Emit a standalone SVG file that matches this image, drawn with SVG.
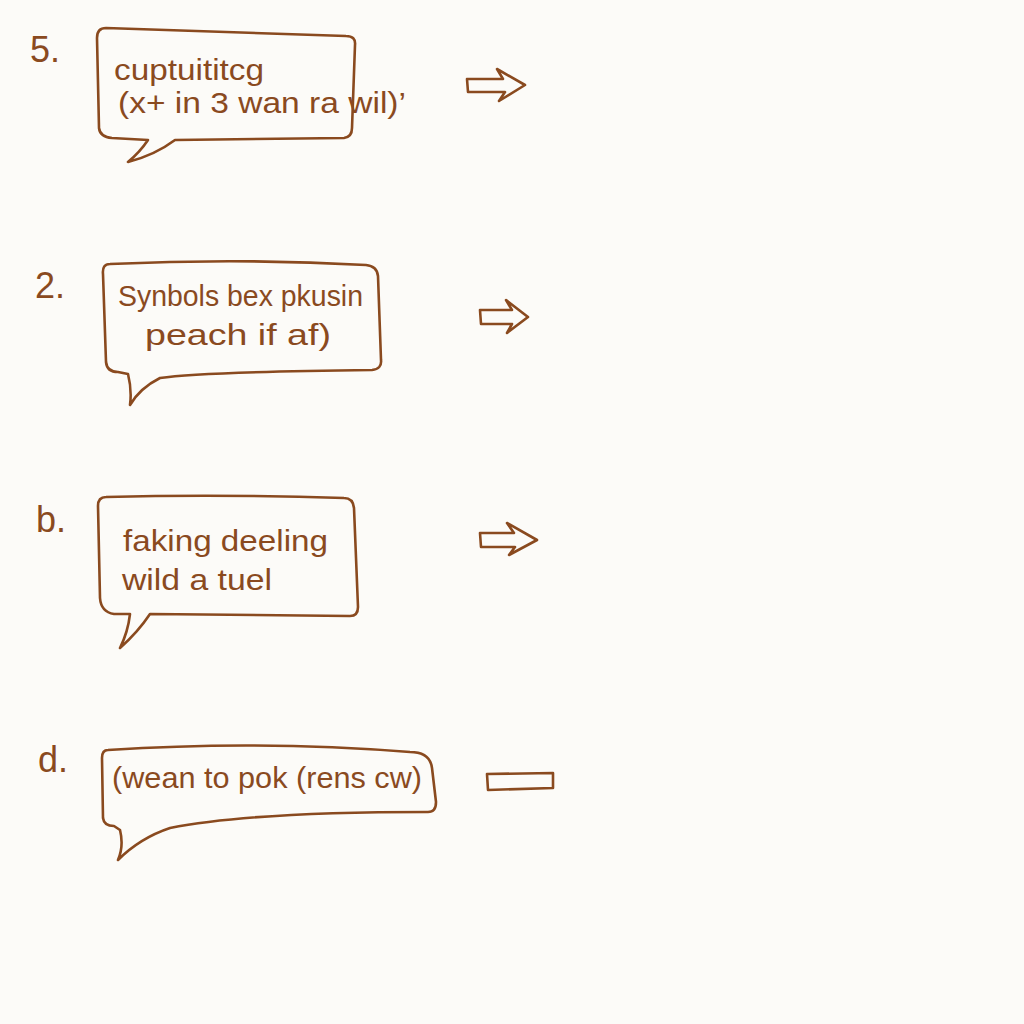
<svg xmlns="http://www.w3.org/2000/svg" width="1024" height="1024" viewBox="0 0 1024 1024">
<style>
.bg{fill:#fcfbf8}
.b{fill:none;stroke:#8a4a1f;stroke-width:2.6;stroke-linejoin:round;stroke-linecap:round}
.t{font-family:"Liberation Sans","DejaVu Sans",sans-serif;fill:#8a4a1f;font-size:29px}
.n{font-family:"Liberation Sans","DejaVu Sans",sans-serif;fill:#8a4a1f;font-size:36px}
</style>
<rect class="bg" width="1024" height="1024"/>
<g id="node5">
<text class="n" x="30" y="62">5.</text>
<path class="b" d="M106,28 Q97,28 97,38 L99,128 Q100,137 112,138 L148,140 Q140,152 128,162 Q155,155 175,140 L344,138 Q352,137 352,128 L355,45 Q356,36 346,36 Z"/>
<text class="t" x="114" y="80" textLength="150" lengthAdjust="spacingAndGlyphs">cuptuititcg</text>
<text class="t" x="118" y="113" textLength="288" lengthAdjust="spacingAndGlyphs">(x+ in 3 wan ra wil)’</text>
</g>
<g id="node2">
<text class="n" x="35" y="298">2.</text>
<path class="b" d="M110,264 Q102,264 103,274 L106,362 Q107,372 118,372 L128,374 Q132,390 130,405 Q140,388 160,378 Q200,372 372,370 Q382,369 381,360 L378,276 Q377,266 366,265 Q240,258 110,264 Z"/>
<text class="t" x="118" y="306" font-size="31" textLength="245" lengthAdjust="spacingAndGlyphs">Synbols bex pkusin</text>
<text class="t" x="145" y="345" font-size="31" textLength="186" lengthAdjust="spacingAndGlyphs">peach if af)</text>
</g>
<g id="nodeb">
<text class="n" x="36" y="532">b.</text>
<path class="b" d="M106,497 Q98,497 98,506 L100,598 Q101,612 114,614 L130,614 Q128,632 120,648 Q138,632 150,614 L350,616 Q358,616 358,607 L354,508 Q353,498 344,498 Q220,494 106,497 Z"/>
<text class="t" x="123" y="551" font-size="30" textLength="205" lengthAdjust="spacingAndGlyphs">faking deeling</text>
<text class="t" x="122" y="590" font-size="30" textLength="150" lengthAdjust="spacingAndGlyphs">wild a tuel</text>
</g>
<g id="noded">
<text class="n" x="38" y="772">d.</text>
<path class="b" d="M108,750 Q102,750 102,758 L103,818 Q104,826 114,826 L120,830 Q124,846 118,860 Q140,838 170,828 Q250,812 428,812 Q436,812 436,802 L432,768 Q430,752 410,752 Q260,740 108,750 Z"/>
<text class="t" x="112" y="788" font-size="30" textLength="310" lengthAdjust="spacingAndGlyphs">(wean to pok (rens cw)</text>
</g>
<g id="connectors">
<path class="b" d="M467,79 L503,79 L497,69 L525,85 L499,101 L505,92 L468,92 Z"/>
<path class="b" d="M480,310 L512,310 L506,300 L528,317 L507,333 L512,324 L481,324 Z"/>
<path class="b" d="M480,533 L514,533 L507,523 L537,540 L509,555 L515,547 L481,547 Z"/>
<path class="b" d="M487,774 L553,773 L553,788 L488,790 Z"/>
</g>
</svg>
